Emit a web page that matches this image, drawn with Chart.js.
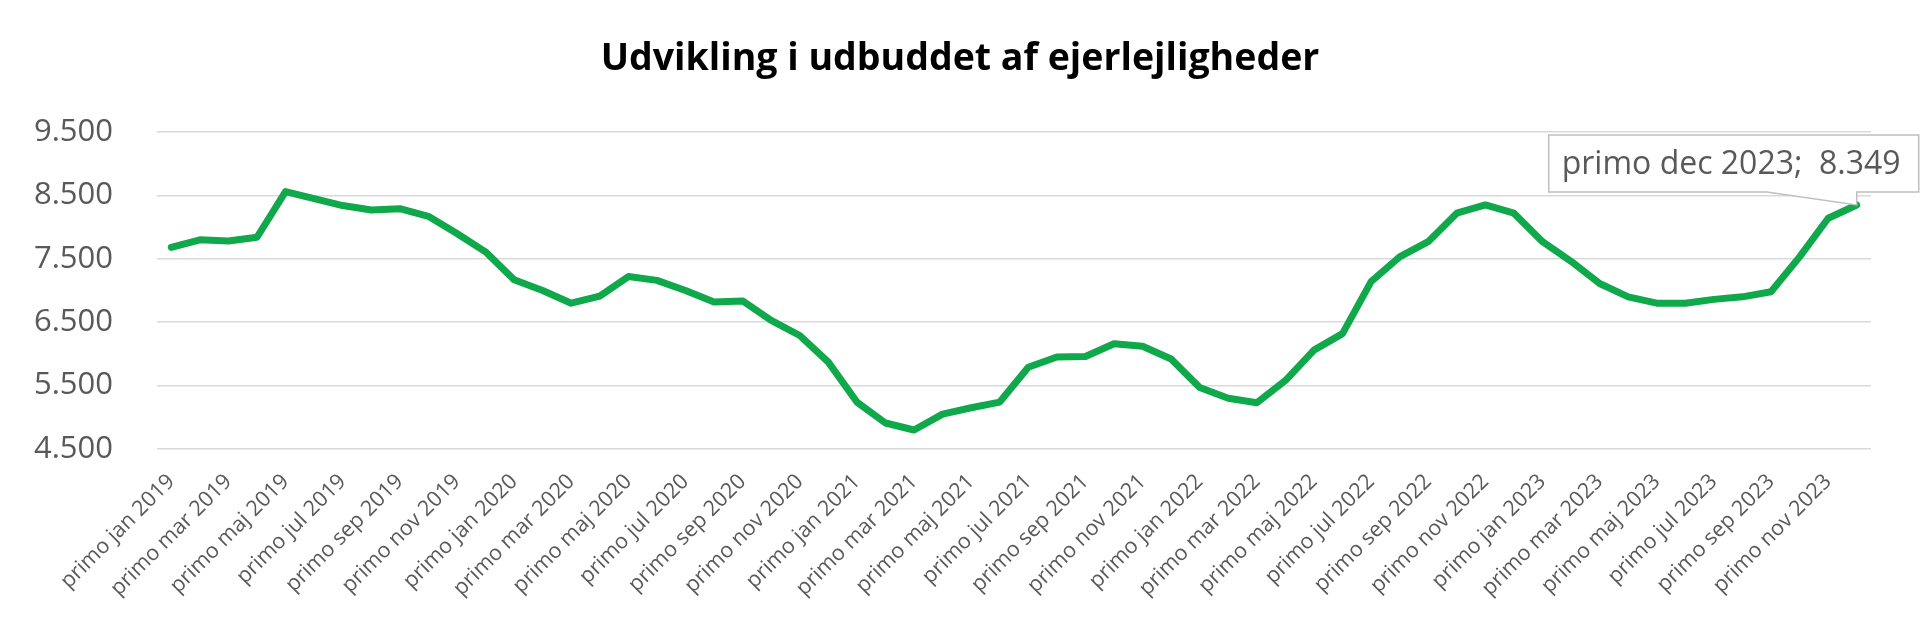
<!DOCTYPE html>
<html lang="da">
<head>
  <meta charset="UTF-8">
  <title>Udvikling i udbuddet af ejerlejligheder</title>
  <script src="https://cdn.jsdelivr.net/npm/chart.js"></script>
  <style>
    html, body {
      margin: 0;
      padding: 0;
      background: #ffffff;
    }
    #wrap {
      width: 1920px;
      height: 622px;
    }
  </style>
</head>
<body>
  <div id="wrap">
    <canvas id="grafik" width="1920" height="622"></canvas>
  </div>

  <script>
    const maaneder = ['jan', 'feb', 'mar', 'apr', 'maj', 'jun', 'jul', 'aug', 'sep', 'okt', 'nov', 'dec'];
    const aar = [2019, 2020, 2021, 2022, 2023];

    // antal ejerlejligheder til salg, primo hver måned
    const udbud2019 = [7680, 7800, 7780, 7840, 8560, 8450, 8340, 8270, 8290, 8170, 7900, 7610];
    const udbud2020 = [7170, 7000, 6800, 6910, 7220, 7160, 7000, 6820, 6835, 6530, 6290, 5870];
    const udbud2021 = [5240, 4910, 4800, 5050, 5150, 5240, 5790, 5950, 5960, 6160, 6120, 5920];
    const udbud2022 = [5470, 5300, 5230, 5580, 6060, 6320, 7140, 7530, 7770, 8220, 8350, 8220];
    const udbud2023 = [7770, 7460, 7110, 6900, 6800, 6800, 6860, 6900, 6980, 7530, 8140, 8349];

    const yTicks = [4500, 5500, 6500, 7500, 8500, 9500];
    const titel = 'Udvikling i udbuddet af ejerlejligheder';

    const labels = [];
    for (let a of aar) {
      for (let m of maaneder) labels.push('primo ' + m + ' ' + a);
    }
    const vaerdier = [].concat(udbud2019, udbud2020, udbud2021, udbud2022, udbud2023);

    function tal(v) {
      return String(v).replace(/\B(?=(\d{3})+(?!\d))/g, '.');
    }

    const graa = '#595959';
    const font = "'Open Sans', sans-serif";

    // titlen centreres over hele billedet, ikke kun plotområdet
    const titelPlugin = {
      id: 'titelPlugin',
      beforeDraw(chart) {
        const ctx = chart.ctx;
        ctx.save();
        ctx.fillStyle = '#000000';
        ctx.font = 'bold 37.5px ' + font;
        ctx.textAlign = 'center';
        ctx.textBaseline = 'middle';
        ctx.fillText(titel, chart.width / 2, 59);
        ctx.restore();
      }
    };

    // label med pil til sidste punkt
    const sidsteLabel = {
      id: 'sidsteLabel',
      afterDatasetsDraw(chart) {
        const meta = chart.getDatasetMeta(0);
        const i = meta.data.length - 1;
        const p = meta.data[i];
        const ctx = chart.ctx;
        const x0 = p.x - 308, y0 = p.y - 70, w = 370, h = 57;
        const bund = y0 + h;
        ctx.save();
        ctx.fillStyle = '#ffffff';
        ctx.strokeStyle = '#bfbfbf';
        ctx.lineWidth = 1.5;
        ctx.beginPath();
        ctx.moveTo(x0, y0);
        ctx.lineTo(x0 + w, y0);
        ctx.lineTo(x0 + w, bund);
        ctx.lineTo(p.x, bund);
        ctx.lineTo(p.x, p.y);
        ctx.lineTo(p.x - 90, bund);
        ctx.lineTo(x0, bund);
        ctx.closePath();
        ctx.fill();
        ctx.stroke();
        ctx.fillStyle = graa;
        ctx.font = '32px ' + font;
        ctx.textBaseline = 'middle';
        ctx.textAlign = 'left';
        ctx.fillText(labels[i] + ';  ' + tal(vaerdier[i]), x0 + 13, y0 + h / 2 + 1);
        ctx.restore();
      }
    };

    new Chart(document.getElementById('grafik'), {
      type: 'line',
      data: {
        labels,
        datasets: [{
          label: 'Udbud',
          data: vaerdier,
          borderColor: '#0fa84a',
          backgroundColor: '#0fa84a',
          borderWidth: 7,
          borderJoinStyle: 'round',
          borderCapStyle: 'round',
          pointRadius: 0,
          tension: 0
        }]
      },
      options: {
        responsive: false,
        animation: false,
        layout: { padding: { top: 132, right: 49, bottom: 0, left: 0 } },
        plugins: {
          legend: { display: false },
          tooltip: { enabled: false },
          title: { display: false }
        },
        scales: {
          x: {
            offset: true,
            grid: { display: false },
            border: { display: false },
            ticks: {
              autoSkip: false,
              minRotation: 45,
              maxRotation: 45,
              padding: 12,
              color: graa,
              font: { family: font, size: 21.5 },
              callback: (v, i) => (i % 2 === 0 ? labels[i] : '')
            },
            afterFit: (s) => { s.height = 173; }
          },
          y: {
            min: yTicks[0],
            max: yTicks[yTicks.length - 1],
            afterBuildTicks: (s) => { s.ticks = yTicks.map(v => ({ value: v })); },
            grid: { color: '#d9d9d9', lineWidth: 1.6, drawTicks: false },
            border: { display: false },
            ticks: {
              padding: 44,
              color: graa,
              font: { family: font, size: 31 },
              callback: (v) => tal(v)
            },
            afterFit: (s) => { s.width = 157; }
          }
        }
      },
      plugins: [titelPlugin, sidsteLabel]
    });
  </script>
</body>
</html>
